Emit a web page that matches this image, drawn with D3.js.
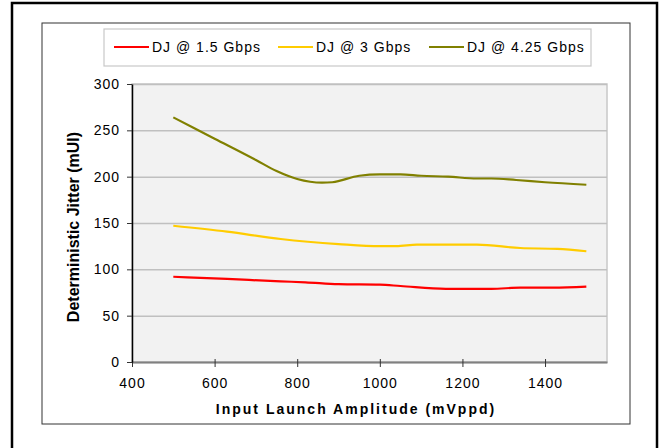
<!DOCTYPE html>
<html>
<head>
<meta charset="utf-8">
<script src="https://cdn.jsdelivr.net/npm/d3@7"></script>
<style>
  body { margin: 0; background: #fff; }
  text { font-family: "Liberation Sans", Arial, sans-serif; }
</style>
</head>
<body>
<div id="chart"></div>
<script>
// x = input launch amplitude (mVppd), y = DJ (mUI)
const dj15 = [[500,92],[630,89.6],[760,87],[820,86],[900,84],[1000,83.4],[1050,82],[1160,79],[1270,79],[1340,80.2],[1420,80.2],[1500,81.3]];
const dj3 = [[500,147],[630,140.6],[760,132.7],[900,127.3],[1000,125],[1040,125],[1090,126.6],[1235,126.6],[1340,123],[1430,122],[1500,119.5]];
const dj425 = [[500,264],[600,241],[700,218],[750,206],[800,197.5],[860,193.5],[885,194],[950,201],[1000,202.5],[1050,202.5],[1100,201],[1165,200],[1235,198],[1270,198],[1330,196.4],[1400,194],[1500,191.3]];

const seriesNames = ["DJ @ 1.5 Gbps", "DJ @ 3 Gbps", "DJ @ 4.25 Gbps"];
const seriesColors = ["#ff0000", "#ffcc00", "#808000"];
const xTicks = [400, 600, 800, 1000, 1200, 1400];
const yTicks = [0, 50, 100, 150, 200, 250, 300];

const W = 662, H = 448;
const plot = { left: 132, right: 607, top: 84, bottom: 362 };

const svg = d3.select("#chart").append("svg")
  .attr("width", W).attr("height", H);

// outer frame and chart-area frame
svg.append("rect").attr("x", 12).attr("y", 3).attr("width", 645).attr("height", 460)
  .attr("fill", "none").attr("stroke", "#000").attr("stroke-width", 2.5);
svg.append("rect").attr("x", 42).attr("y", 23).attr("width", 588).attr("height", 401)
  .attr("fill", "#fff").attr("stroke", "#333").attr("stroke-width", 1);

const x = d3.scaleLinear().domain([400, 1550]).range([plot.left, plot.right]);
const y = d3.scaleLinear().domain([0, 300]).range([plot.bottom, plot.top]);

// plot area background
svg.append("rect")
  .attr("x", plot.left).attr("y", plot.top)
  .attr("width", plot.right - plot.left).attr("height", plot.bottom - plot.top)
  .attr("fill", "#f2f2f2").attr("stroke", "#c8c8c8").attr("stroke-width", 1.5);

// gridlines
svg.append("g").attr("transform", `translate(${plot.left},0)`)
  .call(d3.axisLeft(y).tickValues(yTicks).tickSize(-(plot.right - plot.left)).tickFormat(""))
  .call(g => g.select(".domain").remove())
  .call(g => g.selectAll(".tick line").attr("stroke", "#c0c0c0").attr("stroke-width", 1.5));

// series
const line = d3.line().x(d => x(d[0])).y(d => y(d[1])).curve(d3.curveMonotoneX);
[dj15, dj3, dj425].forEach((data, i) => {
  svg.append("path").datum(data)
    .attr("fill", "none").attr("stroke", seriesColors[i])
    .attr("stroke-width", 2.2).attr("d", line);
});

// axes
svg.append("g").attr("transform", `translate(0,${plot.bottom})`)
  .call(d3.axisBottom(x).tickValues(xTicks).tickFormat(d3.format("d")).tickSize(5).tickSizeOuter(0))
  .call(g => g.select(".domain").attr("stroke", "#808080").attr("stroke-width", 2))
  .call(g => g.selectAll(".tick line").attr("stroke", "#333").attr("y1", -3))
  .call(g => g.selectAll("text").attr("fill", "#000").attr("font-size", 14)
    .attr("letter-spacing", "1px").attr("dy", "1.3em"));

svg.append("g").attr("transform", `translate(${plot.left},0)`)
  .call(d3.axisLeft(y).tickValues(yTicks).tickSize(5).tickSizeOuter(0))
  .call(g => g.select(".domain").attr("stroke", "#000").attr("stroke-width", 1.5))
  .call(g => g.selectAll(".tick line").attr("stroke", "#333"))
  .call(g => g.selectAll("text").attr("fill", "#000").attr("font-size", 14)
    .attr("letter-spacing", "1px").attr("x", -12));

// axis titles
svg.append("text").attr("x", 356).attr("y", 414)
  .attr("text-anchor", "middle").attr("font-size", 14).attr("font-weight", "bold")
  .attr("letter-spacing", "2px").text("Input Launch Amplitude (mVppd)");

svg.append("text")
  .attr("transform", `translate(79,${(plot.top + plot.bottom) / 2 + 4}) rotate(-90)`)
  .attr("text-anchor", "middle").attr("font-size", 16).attr("font-weight", "bold")
  .text("Deterministic Jitter (mUI)");

// legend
const leg = svg.append("g");
leg.append("rect").attr("x", 104).attr("y", 29).attr("width", 487).attr("height", 37)
  .attr("fill", "#fff").attr("stroke", "#c8c8c8").attr("stroke-width", 1.2);
const legX = [114, 278, 429];
seriesNames.forEach((name, i) => {
  leg.append("line").attr("x1", legX[i]).attr("x2", legX[i] + 35)
    .attr("y1", 47).attr("y2", 47)
    .attr("stroke", seriesColors[i]).attr("stroke-width", 2.2);
  leg.append("text").attr("x", legX[i] + 38).attr("y", 52)
    .attr("font-size", 14).attr("letter-spacing", "1px").text(name);
});
</script>
</body>
</html>
